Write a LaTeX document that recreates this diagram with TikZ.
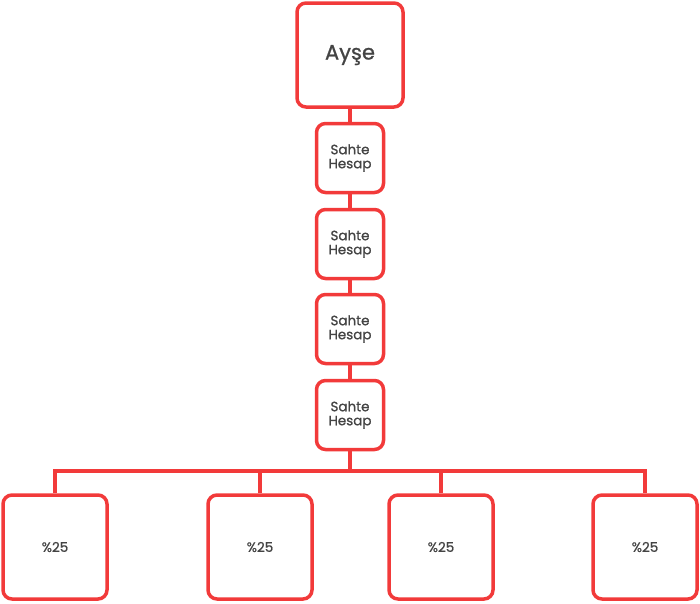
\documentclass[tikz,border=0pt]{standalone}
\usepackage{fontspec}
\setmainfont{Poppins}
\newfontfamily\pmed{Poppins}[FakeBold=0.9]
\definecolor{rd}{HTML}{F23A3A}
\definecolor{tx}{HTML}{444444}
\begin{document}
\begin{tikzpicture}[x=1pt,y=-1pt,
  box/.style={draw=rd,line width=3.5pt,rounded corners=9pt,fill=white,text=tx,align=center,inner sep=0pt},
  ln/.style={draw=rd,line width=3.5pt}]
\useasboundingbox (0,0) rectangle (700,603);
\node[box,minimum width=106pt,minimum height=104pt,font=\pmed\fontsize{21}{22}\selectfont] (a) at (350,55) {Ayşe};
\foreach \i/\y in {1/158,2/244,3/329,4/415}{
  \node[box,minimum width=67pt,minimum height=69pt,font=\pmed\fontsize{13.5}{14}\selectfont] (s\i) at (350,\y) {Sahte\\Hesap};
}
\foreach \i/\x in {1/55,2/260,3/441,4/645}{
  \node[box,minimum width=104pt,minimum height=104pt,font=\pmed\fontsize{13.5}{14}\selectfont] (b\i) at (\x,547) {\%25};
}
\draw[ln] (a) -- (s1);
\draw[ln] (s1) -- (s2);
\draw[ln] (s2) -- (s3);
\draw[ln] (s3) -- (s4);
\coordinate (h) at (350,471);
\draw[ln] (s4) -- (h);
\draw[ln] (b1.north) -- (b1.north |- h) -- (b4.north |- h) -- (b4.north);
\draw[ln] (b2.north) -- (b2.north |- h);
\draw[ln] (b3.north) -- (b3.north |- h);
\end{tikzpicture}
\end{document}
